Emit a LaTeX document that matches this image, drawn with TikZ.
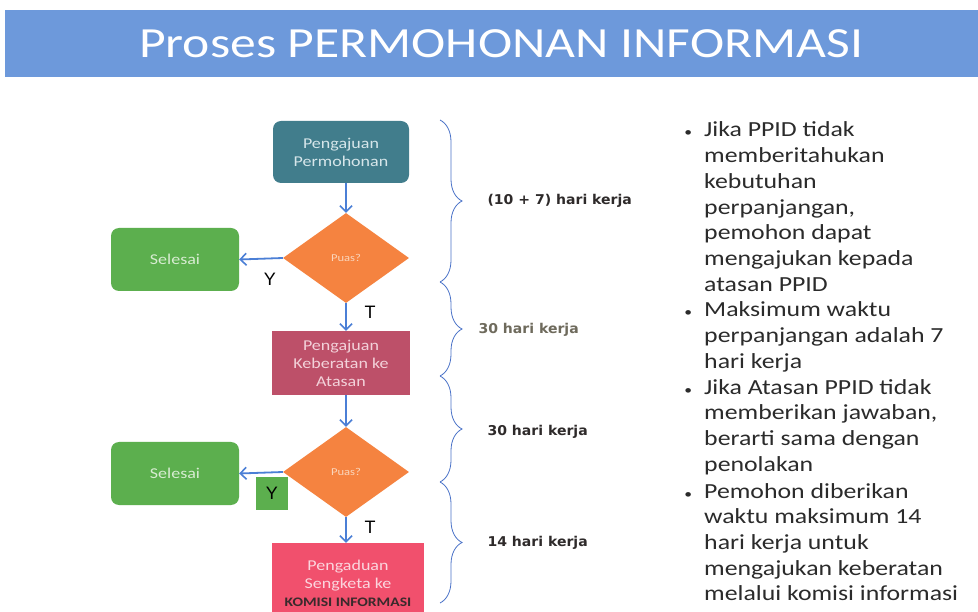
\documentclass[tikz,border=0pt]{standalone}
\usepackage{fontspec}
\setmainfont{Carlito}
\newfontfamily\slidefont[FakeStretch=1.2]{Carlito}
\newfontfamily\bracefont[FakeStretch=1.04]{DejaVu Sans}
\newfontfamily\ytfont{Liberation Sans}
\usetikzlibrary{arrows.meta,decorations.pathreplacing,shapes.geometric}
\definecolor{titlec}{HTML}{6D99DB}
\definecolor{tealc}{HTML}{417D8C}
\definecolor{tealtxt}{HTML}{D6E6EA}
\definecolor{orangec}{HTML}{F58340}
\definecolor{orangetxt}{HTML}{FAD6BC}
\definecolor{greenc}{HTML}{5CAF4E}
\definecolor{greentxt}{HTML}{D8ECD2}
\definecolor{rosec}{HTML}{BD5069}
\definecolor{rosetxt}{HTML}{F3D2DA}
\definecolor{pinkc}{HTML}{F1506D}
\definecolor{pinktxt}{HTML}{FBD6DE}
\definecolor{darktxt}{HTML}{3A2A2C}
\definecolor{arrowc}{HTML}{4B7FD6}
\definecolor{bracec}{HTML}{4B73C8}
\definecolor{labeltxt}{HTML}{2E2A2A}
\definecolor{graylabel}{HTML}{6E6A5C}
\definecolor{bodytxt}{HTML}{2B2B2B}
\newcommand{\mybullet}{\makebox[0pt][r]{{\fontsize{13}{13}\selectfont\textbullet}\hspace{12pt}}}
\begin{document}
\begin{tikzpicture}[x=1pt,y=-1pt,
  titlebar/.style={fill=titlec, inner sep=0pt},
  titletext/.style={text=white, inner sep=0pt, font={\slidefont\fontsize{43}{48}\selectfont}},
  procbox/.style={inner sep=2pt, align=center, font={\slidefont\fontsize{15}{18}\selectfont}},
  endbox/.style={procbox, fill=greenc, text=greentxt, rounded corners=8pt, minimum width=128pt, minimum height=63pt},
  decision/.style={diamond, fill=orangec, text=orangetxt, inner sep=0pt, minimum width=126pt, minimum height=90pt, font={\slidefont\fontsize{10.5}{12}\selectfont}},
  flow/.style={arrowc, line width=1.8pt, -{Straight Barb[length=6pt,width=12pt,line width=1.6pt]}},
  yt/.style={font={\ytfont\fontsize{18}{20}\selectfont}, text=black},
  bracestyle/.style={bracec, line width=0.8pt, decorate, decoration={brace, amplitude=22pt}},
  bracelabel/.style={anchor=west, font={\bracefont\bfseries\fontsize{13.5}{16}\selectfont}, text=labeltxt},
  bullettext/.style={anchor=base west, align=left, text=bodytxt, inner sep=0pt, font={\slidefont\fontsize{21.5}{25.7}\selectfont}}
]
\useasboundingbox (0,0) rectangle (978,612);
\fill[white] (0,0) rectangle (978,612);

% title
\node[titlebar, minimum width=973pt, minimum height=67pt] (title) at (491.5,43.5) {};
\node[titletext] (titlet) at (501,43.5) {Proses PERMOHONAN INFORMASI};

% flow nodes
\node[procbox, fill=tealc, text=tealtxt, rounded corners=8pt, minimum width=136pt, minimum height=62pt] (req) at (341,152) {Pengajuan\\Permohonan};
\node[decision] (d1) at (346,258) {Puas?};
\node[endbox] (s1) at (175,259.5) {Selesai};
\node[procbox, fill=rosec, text=rosetxt, minimum width=138pt, minimum height=64pt] (obj) at (341,363) {Pengajuan\\Keberatan ke\\Atasan};
\node[decision] (d2) at (346,472) {Puas?};
\node[endbox] (s2) at (175,473.5) {Selesai};
\node[procbox, fill=pinkc, text=pinktxt, minimum width=152pt, minimum height=80pt] (ki) at (348,583) {Pengaduan\\Sengketa ke\\{\color{darktxt}\bfseries\fontsize{13}{16}\selectfont KOMISI INFORMASI}};

% connectors
\draw[flow] (req.south -| d1.north) -- (d1.north);
\draw[flow] (d1.west) -- (s1.east);
\draw[flow] (d1.south) -- (obj.north -| d1.south);
\draw[flow] (obj.south -| d2.north) -- (d2.north);
\draw[flow] (d2.west) -- (s2.east);
\draw[flow] (d2.south) -- (ki.north -| d2.south);

% Y / T labels
\node[yt] (y1) at (270,279) {Y};
\node[yt] (t1) at (370,312) {T};
\node[yt, fill=greenc, minimum width=32pt, minimum height=33pt, inner sep=0pt] (y2) at (272,493.5) {Y};
\node[yt] (t2) at (370,527) {T};

% braces
\draw[bracestyle] (440,120) -- (440,282);
\draw[bracestyle] (440,282) -- (440,376);
\draw[bracestyle] (440,376) -- (440,482);
\draw[bracestyle] (440,482) -- (440,603);
\node[bracelabel] (l1) at (484,201) {(10 + 7) hari kerja};
\node[bracelabel, text=graylabel] (l2) at (475,330) {30 hari kerja};
\node[bracelabel] (l3) at (484,432) {30 hari kerja};
\node[bracelabel] (l4) at (484,543) {14 hari kerja};

% bullet text (anchored at the baseline of the last line)
\node[bullettext] (b1) at (704,291.2) {\mybullet Jika PPID tidak\\memberitahukan\\kebutuhan\\perpanjangan,\\pemohon dapat\\mengajukan kepada\\atasan PPID};
\node[bullettext] (b2) at (704,368.4) {\mybullet Maksimum waktu\\perpanjangan adalah 7\\hari kerja};
\node[bullettext] (b3) at (704,471.1) {\mybullet Jika Atasan PPID tidak\\memberikan jawaban,\\berarti sama dengan\\penolakan};
\node[bullettext] (b4) at (704,600.8) {\mybullet Pemohon diberikan\\waktu maksimum 14\\hari kerja untuk\\mengajukan keberatan\\melalui komisi informasi};
\end{tikzpicture}
\end{document}
